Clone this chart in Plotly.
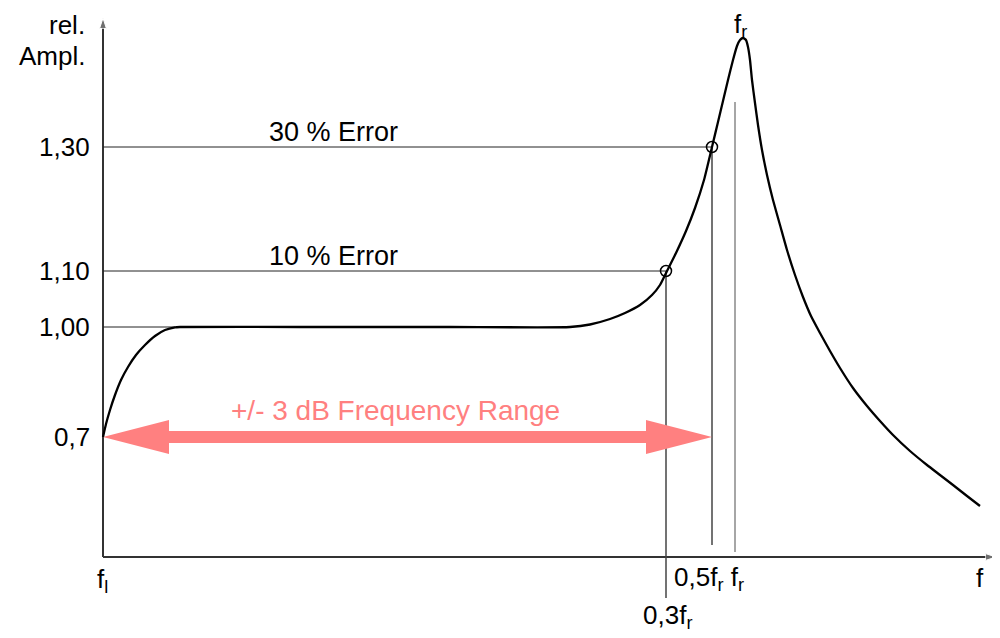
import plotly.graph_objects as go

# Diagram coordinates: horizontal = frequency position, vertical = amplitude position (up)
H = 638
curve_f = [103, 106, 110, 115, 121, 128, 136, 145, 155, 165, 175, 180, 300, 450, 570,
           590, 610, 625, 640, 652, 660, 667, 676, 686, 695, 704, 712, 718, 723, 728, 733, 737,
           740, 743, 746, 748, 750, 752, 755, 758, 762, 767, 773, 780, 787, 795, 803, 811, 820,
           830, 840, 853, 867, 880, 893, 910, 927, 940, 953, 967, 980]
curve_py = [437, 424, 410, 395, 380, 367, 355, 345, 336, 330, 327.3, 327, 327, 327, 327,
            324.5, 319, 313, 305, 295, 285, 271, 253, 231, 208, 180, 147, 122, 101, 80, 60, 46,
            40, 38, 40, 47, 60, 80, 103, 125, 150, 175, 200, 225, 250, 275, 297, 316, 333,
            351, 368, 388, 406, 421, 435, 451, 465, 475, 485, 496, 506]
curve_a = [H - v for v in curve_py]

amp_tick_labels = ["0,7", "1,00", "1,10", "1,30"]
amp_tick_pos = [201, 311, 367, 491]

f_l, f_03, f_05, f_r = 103, 666, 712, 735
axis_y0 = 81      # amplitude-axis origin (frequency axis level)
axis_top = 620
axis_right = 996
peak_f_label = 740

err_labels = ["10 % Error", "30 % Error"]
err_f = [f_03, f_05]
err_a = [367, 491]
flat_start_f = 175

band_label = "+/- 3 dB Frequency Range"
band_a = 201

# page body has an 8px margin: plot window starts 8px in
OFF = 8

fig = go.Figure()

# axes with arrow heads
axis_col = "#333"
fig.add_trace(go.Scatter(x=[f_l, f_l], y=[axis_y0, axis_top], mode="lines+markers",
                         line=dict(color=axis_col, width=2),
                         marker=dict(symbol="arrow", size=[0, 11], angleref="previous", color=axis_col),
                         hoverinfo="skip"))
fig.add_trace(go.Scatter(x=[f_l, axis_right], y=[axis_y0, axis_y0], mode="lines+markers",
                         line=dict(color=axis_col, width=2),
                         marker=dict(symbol="arrow", size=[0, 11], angleref="previous", color=axis_col),
                         hoverinfo="skip"))

# reference lines
ref_col = "#222"
fig.add_trace(go.Scatter(x=[f_l, f_05], y=[err_a[1], err_a[1]], mode="lines",
                         line=dict(color=ref_col, width=1), hoverinfo="skip"))
fig.add_trace(go.Scatter(x=[f_l, f_03], y=[err_a[0], err_a[0]], mode="lines",
                         line=dict(color=ref_col, width=1), hoverinfo="skip"))
fig.add_trace(go.Scatter(x=[f_l, flat_start_f], y=[amp_tick_pos[1], amp_tick_pos[1]], mode="lines",
                         line=dict(color=ref_col, width=1), hoverinfo="skip"))
fig.add_trace(go.Scatter(x=[f_03, f_03], y=[err_a[0], 40], mode="lines",
                         line=dict(color="#444", width=1.5), hoverinfo="skip"))
fig.add_trace(go.Scatter(x=[f_05, f_05], y=[err_a[1], 93], mode="lines",
                         line=dict(color="#444", width=1.5), hoverinfo="skip"))
fig.add_trace(go.Scatter(x=[f_r, f_r], y=[536, 86], mode="lines",
                         line=dict(color="#888", width=1.5), hoverinfo="skip"))

# pink double arrow (polygon computed from band limits)
sh, hh, hl = 6, 17, 66
ax_ = [f_l, f_l + hl, f_l + hl, f_05 - hl, f_05 - hl, f_05, f_05 - hl, f_05 - hl, f_l + hl, f_l + hl, f_l]
ay_ = [band_a, band_a - hh, band_a - sh, band_a - sh, band_a - hh, band_a, band_a + hh, band_a + sh,
       band_a + sh, band_a + hh, band_a]
fig.add_trace(go.Scatter(x=ax_, y=ay_, mode="lines", fill="toself", fillcolor="#ff8080",
                         line=dict(color="#ff8080", width=0), hoverinfo="skip"))

# response curve
fig.add_trace(go.Scatter(x=curve_f, y=curve_a, mode="lines",
                         line=dict(color="black", width=2.3, shape="spline", smoothing=0.5),
                         hoverinfo="skip"))
# error circles
fig.add_trace(go.Scatter(x=err_f, y=err_a, mode="markers",
                         marker=dict(symbol="circle-open", size=11, color="black", line=dict(width=1.5)),
                         hoverinfo="skip"))

FS = 26
font = dict(family="Liberation Sans, Arial", size=FS, color="black")
font_err = dict(family="Liberation Sans, Arial", size=27, color="black")
ann = []
for t, p in zip(amp_tick_labels, amp_tick_pos):
    ann.append(dict(x=92, y=p, xref="x", yref="y", text=t, showarrow=False, xanchor="right",
                    yanchor="middle", font=font))
ann.append(dict(x=87, y=H - 25, xref="x", yref="y", text="rel.", showarrow=False, xanchor="right", yanchor="middle", font=font))
ann.append(dict(x=87, y=H - 56, xref="x", yref="y", text="Ampl.", showarrow=False, xanchor="right", yanchor="middle", font=font))

ann.append(dict(x=333, y=err_a[1] + 15, xref="x", yref="y", text=err_labels[1], showarrow=False, font=font_err))
ann.append(dict(x=333, y=err_a[0] + 15, xref="x", yref="y", text=err_labels[0], showarrow=False, font=font_err))
ann.append(dict(x=395, y=band_a + 27, xref="x", yref="y", text=band_label, showarrow=False,
                font=dict(family="Liberation Sans, Arial", size=28, color="#ff8080")))

ann.append(dict(x=f_l - 1, y=H - 580, xref="x", yref="y", text="f<sub>l</sub>", showarrow=False, font=font))
ann.append(dict(x=f_03 + 1, y=H - 616, xref="x", yref="y", text="0,3f<sub>r</sub>", showarrow=False, font=font))
ann.append(dict(x=f_05 - 40, y=H - 578, xref="x", yref="y", text="0,5f<sub>r</sub> f<sub>r</sub>", showarrow=False,
                xanchor="left", font=font))
ann.append(dict(x=980, y=H - 578, xref="x", yref="y", text="f", showarrow=False, font=font))
ann.append(dict(x=peak_f_label, y=H - OFF, xref="x", yref="y", text="f<sub>r</sub>", showarrow=False,
                yanchor="top", borderpad=0, font=font))

fig.update_layout(
    width=1000 - OFF, height=H - OFF, margin=dict(l=0, r=0, t=0, b=0),
    paper_bgcolor="white", plot_bgcolor="white", showlegend=False,
    xaxis=dict(range=[OFF, 1000], visible=False, fixedrange=True),
    yaxis=dict(range=[0, H - OFF], visible=False, fixedrange=True),
    annotations=ann,
)
fig.write_html("out.html")
